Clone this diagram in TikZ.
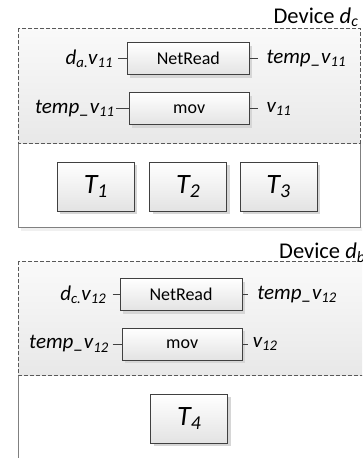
\documentclass[tikz,border=0pt]{standalone}
\usepackage{fontspec}
\setmainfont{Carlito}
\usetikzlibrary{shadows}
\tikzset{
  opbox/.style={draw=black!75, line width=0.8pt, top color=white, bottom color=black!11,
    minimum height=32pt, inner sep=0pt, font=\fontsize{18}{20}\selectfont,
    drop shadow={shadow xshift=3pt, shadow yshift=-3pt, fill=black!16, opacity=1}},
  tbox/.style={opbox, minimum width=77pt, minimum height=49pt, font=\fontsize{28}{30}\selectfont\itshape},
  lab/.style={inner sep=0pt, font=\fontsize{21}{24}\selectfont\itshape},
  stub/.style={draw=black!75, line width=0.8pt},
  dashframe/.style={draw=black!65, line width=0.8pt, dash pattern=on 4pt off 2pt},
  solidframe/.style={draw=black!50, line width=0.8pt},
  devlab/.style={inner sep=0pt, font=\fontsize{22.5}{25}\selectfont}
}
\begin{document}
\begin{tikzpicture}[x=1pt,y=-1pt]
\useasboundingbox (0,0) rectangle (362,458);
\fill[white] (0,0) rectangle (362,458);
\begin{scope}
\clip (0,0) rectangle (362,458);
% ---------- Device d_c ----------
\fill[black!6] (21,227) rectangle (364,231);
\fill[white] (18,143) rectangle (360,227);
\draw[solidframe] (18,143) -- (18,227) -- (360,227) -- (360,143);
\shade[top color=black!2, bottom color=black!9] (18,28) rectangle (360,143);
\draw[dashframe] (18,28) rectangle (360,143);
\node[devlab, anchor=base east] (dev1) at (358.5,23.5) {Device \textit{d\textsubscript{c}}};

\node[opbox, minimum width=122pt] (nr1) at (188.3,58.6) {NetRead};
\node[opbox, minimum width=120pt] (mv1) at (189.2,108.8) {mov};
\node[lab, anchor=east, outer xsep=5pt] (la1) at (118,58.6) {d\textsubscript{a.}v\textsubscript{11}};
\node[lab, anchor=east, outer xsep=1.5pt] (lb1) at (116,108.8) {temp\_v\textsubscript{11}};
\node[lab, anchor=west, outer xsep=9pt] (ra1) at (257.5,58.6) {temp\_v\textsubscript{11}};
\node[lab, anchor=west, outer xsep=9pt] (rb1) at (257.5,108.8) {v\textsubscript{11}};
\draw[stub] (la1) -- (nr1);
\draw[stub] (nr1) -- (ra1);
\draw[stub] (lb1) -- (mv1);
\draw[stub] (mv1) -- (rb1);

\node[tbox] (t1) at (95.8,186.5) {T\textsubscript{1}};
\node[tbox] (t2) at (188.2,186.5) {T\textsubscript{2}};
\node[tbox] (t3) at (278.5,186.5) {T\textsubscript{3}};

% ---------- Device d_b ----------
\fill[white] (18,375) rectangle (385,470);
\draw[solidframe] (18,375) -- (18,470);
\draw[solidframe] (385,375) -- (385,470);
\shade[top color=black!2, bottom color=black!9] (18,261) rectangle (385,375);
\draw[dashframe] (18,261) rectangle (385,375);
\node[devlab, anchor=base west] (dev2) at (279,258.3) {Device \textit{d\textsubscript{b}}};

\node[opbox, minimum width=122pt] (nr2) at (181,294.6) {NetRead};
\node[opbox, minimum width=120pt] (mv2) at (182.2,344) {mov};
\node[lab, anchor=east, outer xsep=6.5pt] (lc2) at (112.7,294.6) {d\textsubscript{c.}v\textsubscript{12}};
\node[lab, anchor=east, outer xsep=4pt] (ld2) at (112.7,344) {temp\_v\textsubscript{12}};
\node[lab, anchor=west, outer xsep=9pt] (rc2) at (248.3,294.6) {temp\_v\textsubscript{12}};
\node[lab, anchor=west, outer xsep=4.5pt] (rd2) at (248.3,344) {v\textsubscript{12}};
\draw[stub] (lc2) -- (nr2);
\draw[stub] (nr2) -- (rc2);
\draw[stub] (ld2) -- (mv2);
\draw[stub] (mv2) -- (rd2);

\node[tbox] (t4) at (189.2,418.8) {T\textsubscript{4}};
\end{scope}
\end{tikzpicture}
\end{document}
